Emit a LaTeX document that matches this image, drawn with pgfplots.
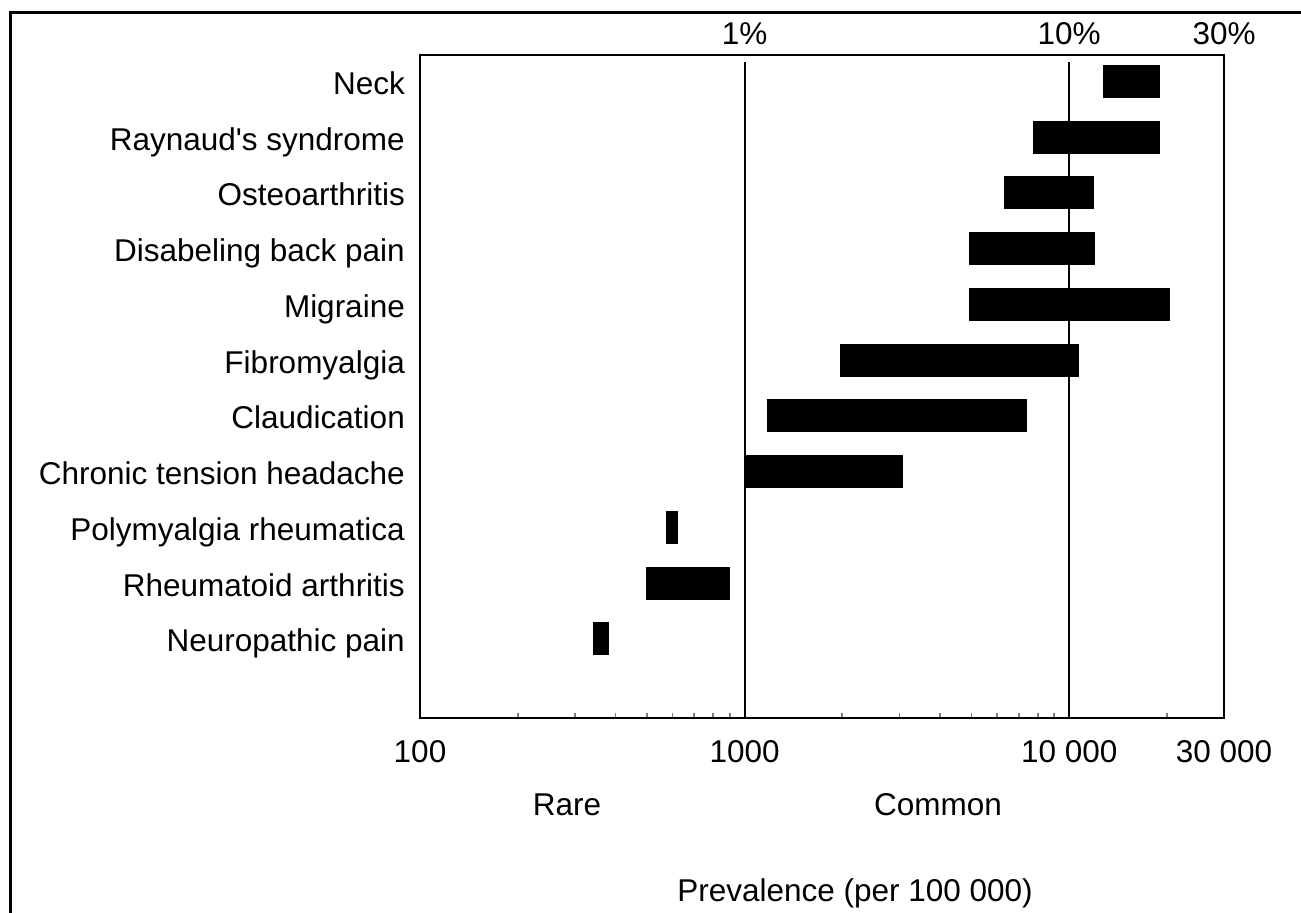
\documentclass[border=0pt]{standalone}
\usepackage{pgfplots}
\pgfplotsset{compat=1.18}
\usepackage{fontspec}
\setmainfont{Liberation Sans}[Ligatures=TeXOff]
\newcommand{\lblfont}{\fontsize{31.5bp}{36bp}\selectfont}
\begin{document}
\begin{tikzpicture}[x=1bp,y=1bp]
\useasboundingbox (0,0) rectangle (1301,912);
% outer frame of the figure
\draw[line width=3bp] (10,-10) -- (10,899) -- (1320,899);
\begin{axis}[
  at={(420bp,194bp)}, anchor=south west,
  scale only axis, width=804bp, height=663bp,
  xmode=log, xmin=100, xmax=30000,
  ymin=-0.417, ymax=11.475,
  axis line style={line width=2.5bp},
  xtick={100,1000,10000,30000},
  xticklabels={100,1000,10 000,30 000},
  minor xtick={200,300,400,500,600,700,800,900,2000,3000,4000,5000,6000,7000,8000,9000,20000},
  xtick pos=lower, ytick pos=left,
  tick align=inside,
  major tick length=0pt, minor tick length=5bp,
  minor tick style={line width=1.8bp},
  ytick={1,...,11},
  yticklabels={Neuropathic pain,Rheumatoid arthritis,Polymyalgia rheumatica,Chronic tension headache,Claudication,Fibromyalgia,Migraine,Disabeling back pain,Osteoarthritis,Raynaud's syndrome,Neck},
  tick label style={font=\lblfont},
  yticklabel style={inner sep=0pt, anchor=base east, xshift=-15bp, yshift=-13bp},
  xticklabel style={inner sep=0pt, yshift=-22bp},
  clip=false,
]
% reference lines at 1% and 10%
\addplot[line width=2bp] coordinates {(1000,-0.417) (1000,11.35)};
\addplot[line width=2bp] coordinates {(10000,-0.417) (10000,11.35)};
% prevalence ranges (low, high) per condition
\addplot[line width=33bp] coordinates {(12700,11) (19000,11)};
\addplot[line width=33bp] coordinates {(7750,10) (19000,10)};
\addplot[line width=33bp] coordinates {(6300,9) (11900,9)};
\addplot[line width=33bp] coordinates {(4900,8) (12000,8)};
\addplot[line width=33bp] coordinates {(4900,7) (20500,7)};
\addplot[line width=33bp] coordinates {(1970,6) (10700,6)};
\addplot[line width=33bp] coordinates {(1170,5) (7430,5)};
\addplot[line width=33bp] coordinates {(1000,4) (3080,4)};
\addplot[line width=33bp] coordinates {(571,3) (622,3)};
\addplot[line width=33bp] coordinates {(496,2) (899,2)};
\addplot[line width=33bp] coordinates {(341,1) (381,1)};
% percentage scale on top
\node[anchor=south, inner sep=0pt, yshift=10bp, font=\lblfont] at (axis cs:1000,11.475) {1\%};
\node[anchor=south, inner sep=0pt, yshift=10bp, font=\lblfont] at (axis cs:10000,11.475) {10\%};
\node[anchor=south, inner sep=0pt, yshift=10bp, font=\lblfont] at (axis cs:30000,11.475) {30\%};
\end{axis}
\node[font=\lblfont] at (567,107) {Rare};
\node[font=\lblfont] at (938,107) {Common};
\node[font=\lblfont] at (855,19) {Prevalence (per 100 000)};
\end{tikzpicture}
\end{document}
